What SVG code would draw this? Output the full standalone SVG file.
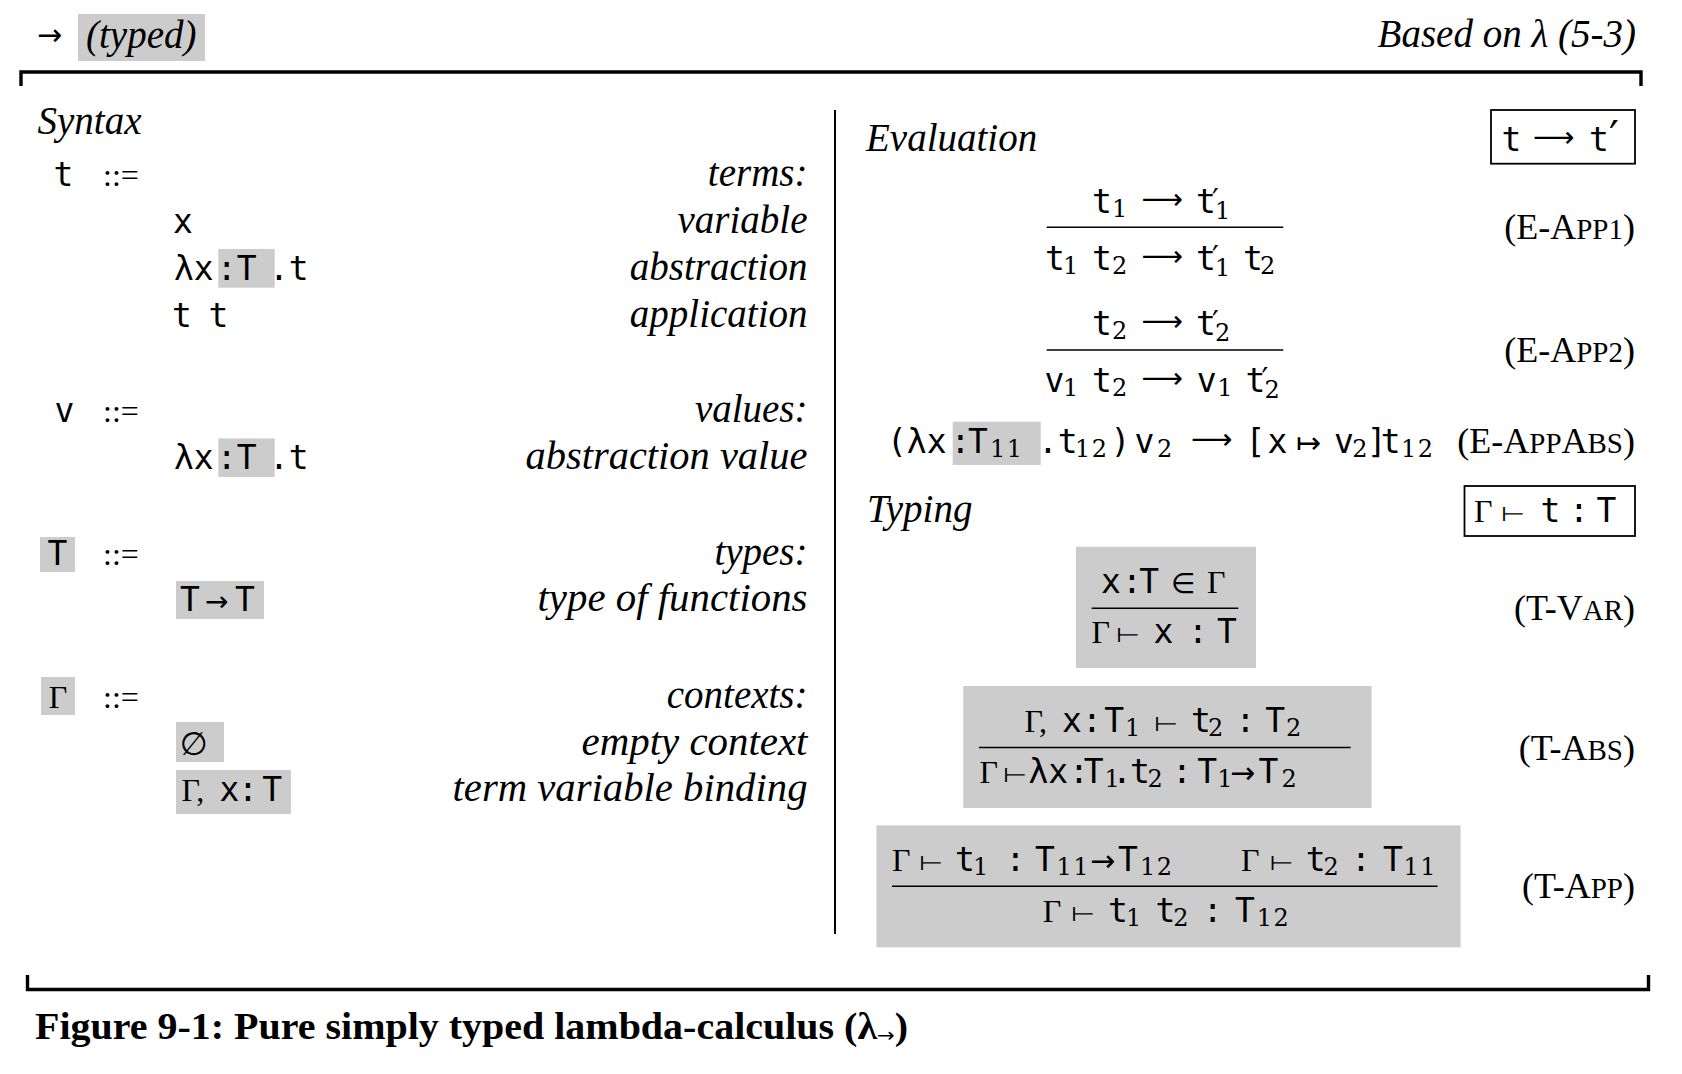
<svg xmlns="http://www.w3.org/2000/svg" width="1682" height="1074" viewBox="0 0 1682 1074">
<style>
.m{font-family:"DejaVu Sans Mono",monospace;font-size:33px;fill:#000}
.s{font-family:"DejaVu Serif",serif;font-size:24px;letter-spacing:1.5px;fill:#000}
.y{font-family:"DejaVu Sans",sans-serif;fill:#000}
.la{font-size:29px}
.ar{font-size:30px}
.ts{font-size:28px;text-anchor:middle}
.pr{font-size:30px}
.g{font-family:"Liberation Serif",serif;font-size:32px;fill:#000}
.i{font-family:"Liberation Serif",serif;font-style:italic;font-size:39px;fill:#000}
.e{text-anchor:end}
.l{font-family:"Liberation Serif",serif;font-size:36px;text-anchor:end;fill:#000}
.sc{font-size:29px}
.hl{fill:#cccccc}
.bar{stroke:#000;stroke-width:1.6}
.rule{stroke:#000;stroke-width:3.4;fill:none}
.box{stroke:#000;stroke-width:1.8;fill:none}
</style>
<rect width="1682" height="1074" fill="#fff"/>

<g id="header">
  <text class="y ar" x="37" y="45">→</text>
  <rect class="hl" x="78" y="14" width="127" height="47"/>
  <text class="i" x="86" y="48">(typed)</text>
  <text class="i e" x="1636" y="47">Based on λ (5-3)</text>
</g>

<g id="frame">
  <path class="rule" d="M21,86 V72 H1641 V86"/>
  <path class="rule" d="M27.5,975 V989.5 H1648.5 V975"/>
  <line x1="835" y1="110" x2="835" y2="934" stroke="#000" stroke-width="2"/>
</g>

<g id="syntax">
  <text class="i" x="37.5" y="133.6">Syntax</text>
  <g id="terms">
    <text class="m" x="53.6" y="185.5">t</text>
    <text class="g" x="103" y="185.5" font-size="35">::=</text>
    <text class="i e" x="807.5" y="185.5">terms:</text>
    <text class="m" x="173" y="232.5">x</text>
    <text class="i e" x="807.5" y="232.5">variable</text>
    <rect class="hl" x="218.3" y="249" width="56.4" height="38.7"/>
    <text class="m" x="174" y="280">λx</text>
    <text class="m" x="216.8" y="280">:T</text>
    <text class="m" x="269" y="280">.t</text>
    <text class="i e" x="807.5" y="280">abstraction</text>
    <text class="m" x="172" y="326.5">t</text>
    <text class="m" x="208.6" y="326.5">t</text>
    <text class="i e" x="807.5" y="326.5">application</text>
  </g>
  <g id="values">
    <text class="m" x="54.5" y="422">v</text>
    <text class="g" x="103" y="422" font-size="35">::=</text>
    <text class="i e" x="807.5" y="422">values:</text>
    <rect class="hl" x="218.3" y="438.4" width="56.4" height="38.6"/>
    <text class="m" x="174" y="469">λx</text>
    <text class="m" x="216.8" y="469">:T</text>
    <text class="m" x="269" y="469">.t</text>
    <text class="i e" x="807.5" y="469" textLength="282" lengthAdjust="spacingAndGlyphs">abstraction value</text>
  </g>
  <g id="types">
    <rect class="hl" x="40" y="537" width="35" height="35"/>
    <text class="m" x="57.5" y="565" text-anchor="middle">T</text>
    <text class="g" x="103" y="565" font-size="35">::=</text>
    <text class="i e" x="807.5" y="565">types:</text>
    <rect class="hl" x="176" y="581" width="88" height="38"/>
    <text class="m" x="180" y="611">T</text>
    <text class="y" x="205" y="611" font-size="28">→</text>
    <text class="m" x="235" y="611">T</text>
    <text class="i e" x="807.5" y="611" textLength="270" lengthAdjust="spacingAndGlyphs">type of functions</text>
  </g>
  <g id="contexts">
    <rect class="hl" x="41" y="677" width="34" height="38"/>
    <text class="g" x="58" y="707.5" text-anchor="middle">Γ</text>
    <text class="g" x="103" y="707.5" font-size="35">::=</text>
    <text class="i e" x="807.5" y="707.5">contexts:</text>
    <rect class="hl" x="176" y="722" width="48" height="40"/>
    <text class="y" x="180" y="754.5" font-size="32">∅</text>
    <text class="i e" x="807.5" y="754.5" textLength="226" lengthAdjust="spacingAndGlyphs">empty context</text>
    <rect class="hl" x="176" y="770" width="115" height="44"/>
    <text class="g" x="181.5" y="800.5">Γ,</text>
    <text class="m" x="219.5" y="800.5">x</text>
    <text class="m" x="238" y="800.5">:</text>
    <text class="m" x="262.3" y="800.5">T</text>
    <text class="i e" x="807.5" y="800.5" textLength="355" lengthAdjust="spacingAndGlyphs">term variable binding</text>
  </g>
</g>

<g id="evaluation">
  <text class="i" x="866" y="150.7">Evaluation</text>
  <g id="eval-judgement">
    <rect class="box" x="1491" y="110" width="144" height="53.7"/>
    <text class="m" x="1501.5" y="150.7">t</text>
    <text class="y la" x="1533" y="146.7">⟶</text>
    <text class="m" x="1589" y="150.7">t</text>
    <text class="y" x="1609" y="153" font-size="44">′</text>
  </g>
  <g id="e-app1">
    <text class="m" x="1092" y="213.3">t</text>
    <text class="s" x="1112" y="217.3">1</text>
    <text class="y la" x="1141.5" y="209.3">⟶</text>
    <text class="m" x="1196" y="213.3">t</text>
    <text class="y pr" x="1212" y="210.3">′</text>
    <text class="s" x="1215" y="219.3">1</text>
    <line class="bar" x1="1046.7" y1="227.3" x2="1283.3" y2="227.3"/>
    <text class="m" x="1045" y="270">t</text>
    <text class="s" x="1063" y="274">1</text>
    <text class="m" x="1092" y="270">t</text>
    <text class="s" x="1112" y="274">2</text>
    <text class="y la" x="1141.5" y="266">⟶</text>
    <text class="m" x="1196" y="270">t</text>
    <text class="y pr" x="1212" y="267">′</text>
    <text class="s" x="1215" y="276">1</text>
    <text class="m" x="1243" y="270">t</text>
    <text class="s" x="1260" y="274">2</text>
    <text class="l" x="1635" y="239">(E-A<tspan class="sc">PP1</tspan>)</text>
  </g>
  <g id="e-app2">
    <text class="m" x="1092" y="335">t</text>
    <text class="s" x="1112" y="339">2</text>
    <text class="y la" x="1141.5" y="331">⟶</text>
    <text class="m" x="1196" y="335">t</text>
    <text class="y pr" x="1212" y="332">′</text>
    <text class="s" x="1215" y="341">2</text>
    <line class="bar" x1="1046.7" y1="350" x2="1283.3" y2="350"/>
    <text class="m" x="1044.4" y="391.7">v</text>
    <text class="s" x="1063" y="395.7">1</text>
    <text class="m" x="1092" y="391.7">t</text>
    <text class="s" x="1112" y="395.7">2</text>
    <text class="y la" x="1141.5" y="387.7">⟶</text>
    <text class="m" x="1196.7" y="391.7">v</text>
    <text class="s" x="1217.2" y="395.7">1</text>
    <text class="m" x="1245.5" y="391.7">t</text>
    <text class="y pr" x="1261.5" y="388.7">′</text>
    <text class="s" x="1264.5" y="397.7">2</text>
    <text class="l" x="1635" y="362">(E-A<tspan class="sc">PP2</tspan>)</text>
  </g>
  <g id="e-appabs">
    <rect class="hl" x="952.7" y="421.7" width="88" height="43.3"/>
    <text class="m" x="887" y="453">(λx</text>
    <text class="m" x="950.6" y="453">:</text>
    <text class="m" x="968" y="453">T</text>
    <text class="s" x="990" y="457" letter-spacing="3">11</text>
    <text class="m" x="1038" y="453">.t</text>
    <text class="s" x="1075" y="457">12</text>
    <text class="m" x="1110.5" y="453">)</text>
    <text class="m" x="1134.5" y="453">v</text>
    <text class="s" x="1157" y="457">2</text>
    <text class="y la" x="1191" y="449">⟶</text>
    <text class="m" x="1245.5" y="453">[</text>
    <text class="m" x="1267.5" y="453">x</text>
    <text class="y ar" x="1296" y="453">↦</text>
    <text class="m" x="1334" y="453">v</text>
    <text class="s" x="1352.3" y="457">2</text>
    <text class="m" x="1366.8" y="453">]</text>
    <text class="m" x="1380.7" y="453">t</text>
    <text class="s" x="1401" y="457">12</text>
    <text class="l" x="1635" y="453">(E-A<tspan class="sc">PP</tspan>A<tspan class="sc">BS</tspan>)</text>
  </g>
</g>

<g id="typing">
  <text class="i" x="867" y="522">Typing</text>
  <g id="typing-judgement">
    <rect class="box" x="1464.5" y="486" width="170.5" height="50"/>
    <text class="g" x="1474" y="522">Γ</text>
    <text class="y ts" transform="translate(1513,521) scale(1,0.72)">⊢</text>
    <text class="m" x="1540.6" y="522">t</text>
    <text class="m" x="1569" y="522">:</text>
    <text class="m" x="1596.5" y="522">T</text>
  </g>
  <g id="t-var">
    <rect class="hl" x="1076" y="546.7" width="180" height="121.3"/>
    <text class="m" x="1101" y="592.7">x</text>
    <text class="m" x="1122" y="592.7">:</text>
    <text class="m" x="1139.3" y="592.7">T</text>
    <text class="y" x="1171" y="592.7" font-size="28">∈</text>
    <text class="g" x="1207" y="592.7">Γ</text>
    <line class="bar" x1="1091.7" y1="608.3" x2="1238.3" y2="608.3"/>
    <text class="g" x="1091.5" y="642.7">Γ</text>
    <text class="y ts" transform="translate(1128,641.7) scale(1,0.72)">⊢</text>
    <text class="m" x="1153.5" y="642.7">x</text>
    <text class="m" x="1188" y="642.7">:</text>
    <text class="m" x="1217" y="642.7">T</text>
    <text class="l" x="1635" y="620">(T-V<tspan class="sc">AR</tspan>)</text>
  </g>
  <g id="t-abs">
    <rect class="hl" x="963.3" y="686" width="408.3" height="122"/>
    <text class="g" x="1024.4" y="732">Γ,</text>
    <text class="m" x="1062" y="732">x</text>
    <text class="m" x="1082" y="732">:</text>
    <text class="m" x="1104.3" y="732">T</text>
    <text class="s" x="1125" y="736">1</text>
    <text class="y ts" transform="translate(1166,731) scale(1,0.72)">⊢</text>
    <text class="m" x="1191" y="732">t</text>
    <text class="s" x="1208" y="736">2</text>
    <text class="m" x="1235.6" y="732">:</text>
    <text class="m" x="1265.3" y="732">T</text>
    <text class="s" x="1286" y="736">2</text>
    <line class="bar" x1="979" y1="747.5" x2="1350.7" y2="747.5"/>
    <text class="g" x="979.4" y="783">Γ</text>
    <text class="y ts" transform="translate(1015,782) scale(1,0.72)">⊢</text>
    <text class="m" x="1028.5" y="783">λx</text>
    <text class="m" x="1069" y="783">:</text>
    <text class="m" x="1083.8" y="783">T</text>
    <text class="s" x="1104.5" y="787">1</text>
    <text class="m" x="1112" y="783">.</text>
    <text class="m" x="1130" y="783">t</text>
    <text class="s" x="1147.5" y="787">2</text>
    <text class="m" x="1172" y="783">:</text>
    <text class="m" x="1197.3" y="783">T</text>
    <text class="s" x="1217.3" y="787">1</text>
    <text class="y ar" x="1230" y="783">→</text>
    <text class="m" x="1258.6" y="783">T</text>
    <text class="s" x="1281.5" y="787">2</text>
    <text class="l" x="1635" y="759.5">(T-A<tspan class="sc">BS</tspan>)</text>
  </g>
  <g id="t-app">
    <rect class="hl" x="876.4" y="825.4" width="584.2" height="122"/>
    <text class="g" x="892" y="871">Γ</text>
    <text class="y ts" transform="translate(931,870) scale(1,0.72)">⊢</text>
    <text class="m" x="955" y="871">t</text>
    <text class="s" x="973" y="875">1</text>
    <text class="m" x="1005.5" y="871">:</text>
    <text class="m" x="1035" y="871">T</text>
    <text class="s" x="1056.5" y="875">11</text>
    <text class="y ar" x="1090" y="871">→</text>
    <text class="m" x="1118" y="871">T</text>
    <text class="s" x="1140" y="875">12</text>
    <text class="g" x="1241" y="871">Γ</text>
    <text class="y ts" transform="translate(1281.5,870) scale(1,0.72)">⊢</text>
    <text class="m" x="1305.7" y="871">t</text>
    <text class="s" x="1323.5" y="875">2</text>
    <text class="m" x="1351" y="871">:</text>
    <text class="m" x="1383" y="871">T</text>
    <text class="s" x="1403.5" y="875">11</text>
    <line class="bar" x1="892" y1="886.3" x2="1437.6" y2="886.3"/>
    <text class="g" x="1042.7" y="922">Γ</text>
    <text class="y ts" transform="translate(1083,921) scale(1,0.72)">⊢</text>
    <text class="m" x="1108" y="922">t</text>
    <text class="s" x="1126" y="926">1</text>
    <text class="m" x="1155.5" y="922">t</text>
    <text class="s" x="1173.2" y="926">2</text>
    <text class="m" x="1202.7" y="922">:</text>
    <text class="m" x="1235" y="922">T</text>
    <text class="s" x="1256.8" y="926">12</text>
    <text class="l" x="1635" y="898">(T-A<tspan class="sc">PP</tspan>)</text>
  </g>
</g>

<g id="caption">
  <text x="35" y="1038.5" font-family="Liberation Serif, serif" font-weight="bold" font-size="38" textLength="873" lengthAdjust="spacingAndGlyphs">Figure 9-1: Pure simply typed lambda-calculus (λ<tspan font-family="DejaVu Sans, sans-serif" font-weight="normal" font-size="20" dy="3">→</tspan><tspan dy="-3">)</tspan></text>
</g>
</svg>
